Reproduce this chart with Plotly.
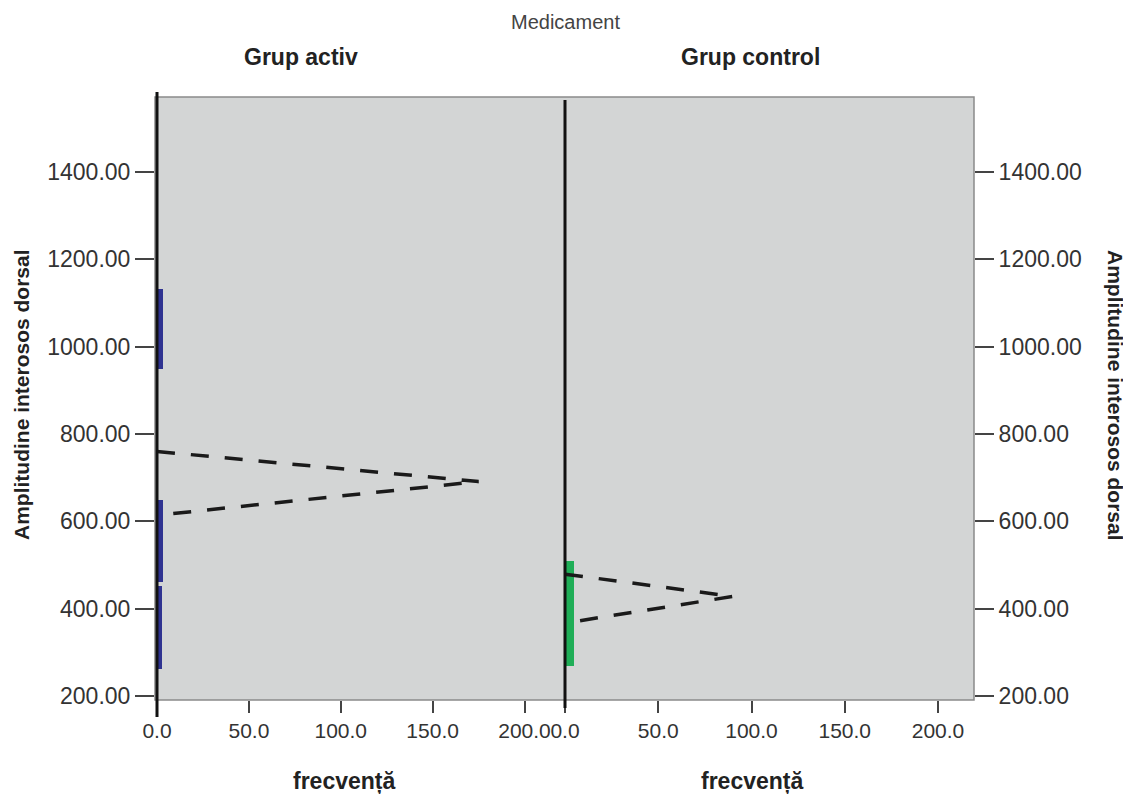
import plotly.graph_objects as go

# ---------------- data ----------------
groups = ["Grup activ", "Grup control"]
y_ticks = [200, 400, 600, 800, 1000, 1200, 1400]
x_ticks = [0, 50, 100, 150, 200]

# histogram bars (bin low, bin high, frequency)
activ_bin_lo = [950, 462, 262]
activ_bin_hi = [1132, 648, 452]
activ_freq = [3, 3, 2.6]

control_bin_lo = [269]
control_bin_hi = [509]
control_freq = [5]

# dashed curve points (frequency, amplitude)
activ_curve_x = [0, 175, 0]
activ_curve_y = [760, 691, 614]
control_curve_x = [0, 90, 0]
control_curve_y = [479, 428, 367]

# ---------------- layout constants ----------------
OFF = 8                      # page body margin
W, H = 1131 - OFF, 794 - OFF
def px(x): return (x - OFF) / W
def py(y): return 1 - (y - OFF) / H

BG = "#d3d5d5"
TXT = "#333333"
FONT = "Liberation Sans, Arial, sans-serif"

fig = go.Figure()

def centers(lo, hi): return [(a + b) / 2 for a, b in zip(lo, hi)]
def widths(lo, hi): return [b - a for a, b in zip(lo, hi)]

fig.add_trace(go.Bar(
    y=centers(activ_bin_lo, activ_bin_hi), x=activ_freq,
    width=widths(activ_bin_lo, activ_bin_hi), orientation="h",
    marker=dict(color="#2f3391", line=dict(width=0)),
    xaxis="x", yaxis="y", showlegend=False))
fig.add_trace(go.Bar(
    y=centers(control_bin_lo, control_bin_hi), x=control_freq,
    width=widths(control_bin_lo, control_bin_hi), orientation="h",
    marker=dict(color="#1fae57", line=dict(width=0)),
    xaxis="x2", yaxis="y2", showlegend=False))

fig.add_trace(go.Scatter(
    x=activ_curve_x, y=activ_curve_y, mode="lines",
    line=dict(color="#1a1a1a", width=3.5, dash="18px,16px"),
    xaxis="x", yaxis="y", showlegend=False))
fig.add_trace(go.Scatter(
    x=control_curve_x, y=control_curve_y, mode="lines",
    line=dict(color="#1a1a1a", width=3.5, dash="18px,16px"),
    xaxis="x2", yaxis="y2", showlegend=False))

yrange = [190.8, 1571.8]
xr_left = [-1.09, 219.3]
xr_right = [-2.68, 219.3]

common_x = dict(tickvals=x_ticks, tickformat=".1f", ticks="outside", ticklen=12,
                tickwidth=1.5, tickcolor="#444444", showgrid=False, zeroline=False,
                showline=False, tickfont=dict(family=FONT, size=21, color=TXT),
                fixedrange=True, automargin=False)
common_y = dict(range=yrange, tickvals=y_ticks, tickformat=".2f", ticks="outside",
                ticklen=19, tickwidth=1.5, tickcolor="#444444", showgrid=False,
                zeroline=False, showline=False,
                tickfont=dict(family=FONT, size=23, color=TXT), automargin=False)

fig.update_layout(
    width=W, height=H, margin=dict(l=0, r=0, t=0, b=0, pad=0, autoexpand=False),
    paper_bgcolor="white", plot_bgcolor=BG, barmode="overlay", bargap=0,
    font=dict(family=FONT, color=TXT),
    xaxis=dict(domain=[px(155), px(560)], range=xr_left, anchor="y", **common_x),
    xaxis2=dict(domain=[px(560), px(974)], range=xr_right, anchor="y2", **common_x),
    yaxis=dict(domain=[py(700), py(97)], anchor="x", side="left", **common_y),
    yaxis2=dict(domain=[py(700), py(97)], anchor="x2", side="right", matches="y", **common_y),
)

# frame around plotting area
fig.add_shape(type="rect", xref="paper", yref="paper",
              x0=px(155), x1=px(974), y0=py(700), y1=py(97),
              line=dict(color="#8a8a8a", width=1.5), layer="above")
# black baseline at zero frequency
fig.add_shape(type="line", xref="x", yref="paper", x0=0, x1=0, y0=py(717), y1=py(92),
              line=dict(color="#111111", width=3), layer="above")
fig.add_shape(type="line", xref="x2", yref="paper", x0=0, x1=0, y0=py(708), y1=py(100),
              line=dict(color="#111111", width=3), layer="above")

def note(text, x, y, size, color, angle=0):
    return dict(text=text, x=px(x), y=py(y), xref="paper", yref="paper",
                xanchor="center", yanchor="middle", textangle=angle, showarrow=False,
                font=dict(family=FONT, size=size, color=color))

ann = [
    note("Medicament", 565, 22, 20, "#444444"),
    note("<b>" + groups[0] + "</b>", 301, 57, 23, "#222222"),
    note("<b>" + groups[1] + "</b>", 750, 57, 23, "#222222"),
    note("<b>frecvență</b>", 344, 781, 23, "#222222"),
    note("<b>frecvență</b>", 752, 781, 23, "#222222"),
    note("<b>Amplitudine interosos dorsal</b>", 21, 395, 21, "#222222", -90),
    note("<b>Amplitudine interosos dorsal</b>", 1116, 395, 21, "#222222", 90),
]
fig.update_layout(annotations=ann)

fig.write_html("out.html")
